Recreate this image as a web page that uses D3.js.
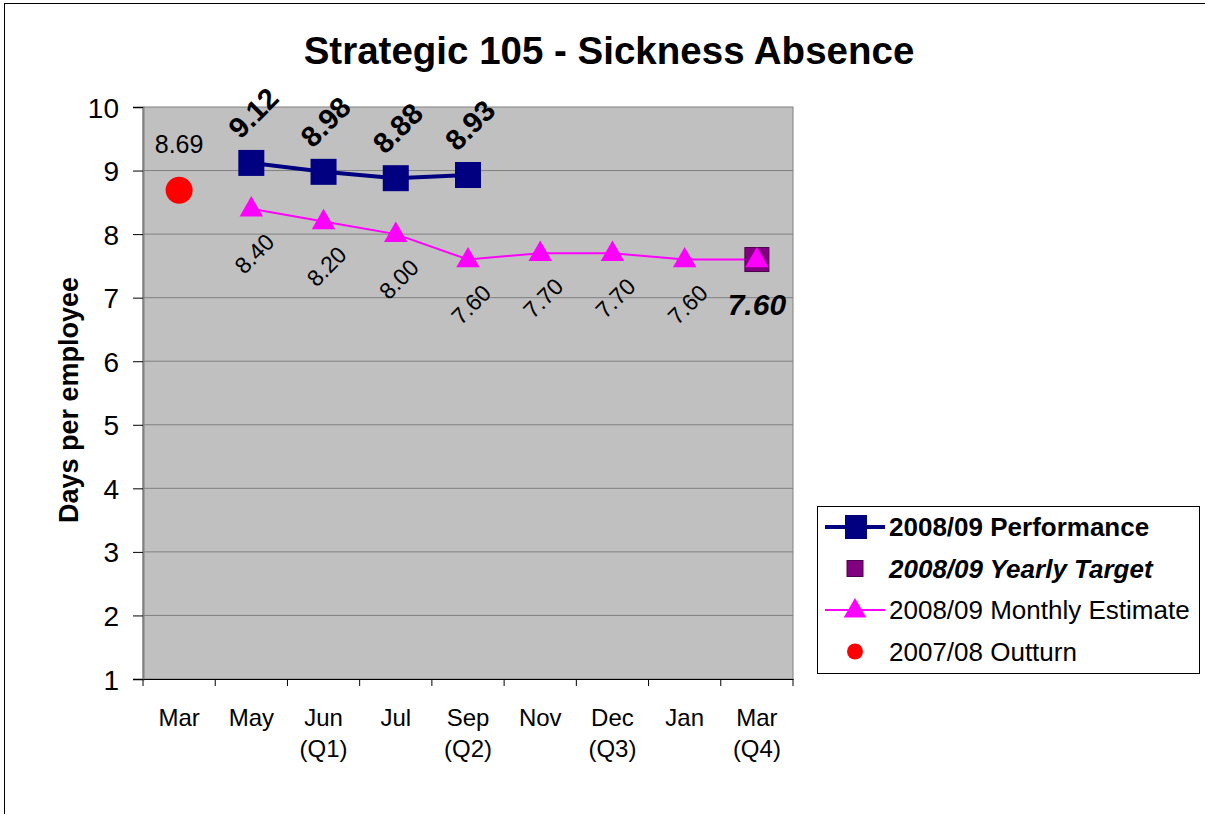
<!DOCTYPE html>
<html>
<head>
<meta charset="utf-8">
<script src="https://cdn.jsdelivr.net/npm/d3@7"></script>
<style>
  body { margin: 0; background: #ffffff; }
  text { font-family: Arial, "Liberation Sans", sans-serif; }
</style>
</head>
<body>
<div id="chart"></div>
<script>
// Chart data
const categories = ['Mar', 'May', 'Jun\n(Q1)', 'Jul', 'Sep\n(Q2)', 'Nov', 'Dec\n(Q3)', 'Jan', 'Mar\n(Q4)'];
const performance = [null, 9.12, 8.98, 8.88, 8.93, null, null, null, null];
const yearlyTarget = [null, null, null, null, null, null, null, null, 7.60];
const monthlyEstimate = [null, 8.40, 8.20, 8.00, 7.60, 7.70, 7.70, 7.60, 7.60];
const outturn = [8.69, null, null, null, null, null, null, null, null];
const yTicks = [1, 2, 3, 4, 5, 6, 7, 8, 9, 10];

const width = 1205;
const height = 814;
const plot = { left: 143, top: 107, right: 793, bottom: 679 };

const svg = d3.select('#chart')
  .append('svg')
  .attr('width', width)
  .attr('height', height);

// Outer frame
svg.append('rect')
  .attr('x', 4.5).attr('y', 3.5)
  .attr('width', width + 10).attr('height', height + 10)
  .attr('fill', '#ffffff')
  .attr('stroke', '#000000')
  .attr('stroke-width', 1);

// Scales
const x = d3.scaleBand()
  .domain(d3.range(categories.length))
  .range([plot.left, plot.right]);

const y = d3.scaleLinear()
  .domain([1, 10])
  .range([plot.bottom, plot.top]);

const cx = i => x(i) + x.bandwidth() / 2;

// Plot background
svg.append('rect')
  .attr('x', plot.left).attr('y', plot.top)
  .attr('width', plot.right - plot.left)
  .attr('height', plot.bottom - plot.top)
  .attr('fill', '#c0c0c0')
  .attr('stroke', '#808080')
  .attr('stroke-width', 1);

// Gridlines
svg.append('g')
  .selectAll('line')
  .data(yTicks.filter(d => d > 1 && d < 10))
  .enter()
  .append('line')
  .attr('x1', plot.left).attr('x2', plot.right)
  .attr('y1', d => y(d)).attr('y2', d => y(d))
  .attr('stroke', '#808080')
  .attr('stroke-width', 1);

// Y axis
const yAxis = svg.append('g')
  .attr('transform', `translate(${plot.left},0)`)
  .call(d3.axisLeft(y).tickValues(yTicks).tickSize(10).tickPadding(14).tickFormat(d3.format('d')));
yAxis.select('.domain').attr('stroke', '#808080').attr('stroke-width', 2);
yAxis.selectAll('.tick line').attr('stroke', '#000000');
yAxis.selectAll('.tick text')
  .style('font-size', '28px')
  .attr('fill', '#000000')
  .attr('dy', '0.36em');

// X axis
const xAxis = svg.append('g')
  .attr('transform', `translate(0,${plot.bottom})`)
  .call(d3.axisBottom(x).tickSize(0).tickFormat(''));
xAxis.select('.domain').attr('stroke', '#000000').attr('stroke-width', 1);

// X ticks at band edges
svg.append('g')
  .selectAll('line')
  .data(d3.range(categories.length + 1))
  .enter()
  .append('line')
  .attr('x1', i => i < categories.length ? x(i) : plot.right)
  .attr('x2', i => i < categories.length ? x(i) : plot.right)
  .attr('y1', plot.bottom).attr('y2', plot.bottom + 7)
  .attr('stroke', '#000000');

// X labels (two lines)
const xLabels = svg.append('g')
  .selectAll('text')
  .data(categories)
  .enter()
  .append('text')
  .attr('x', (d, i) => cx(i))
  .attr('y', plot.bottom + 47)
  .attr('text-anchor', 'middle')
  .style('font-size', '24px')
  .attr('fill', '#000000');
xLabels.each(function(d) {
  const parts = d.split('\n');
  const t = d3.select(this);
  parts.forEach((p, k) => {
    t.append('tspan')
      .attr('x', t.attr('x'))
      .attr('dy', k === 0 ? 0 : 31)
      .text(p);
  });
});

// Title
svg.append('text')
  .attr('x', 609).attr('y', 64)
  .attr('text-anchor', 'middle')
  .style('font-size', '38.5px')
  .style('font-weight', 700)
  .text('Strategic 105 - Sickness Absence');

// Y axis title
svg.append('text')
  .attr('transform', `translate(78,400) rotate(-90)`)
  .attr('text-anchor', 'middle')
  .style('font-size', '27px')
  .style('font-weight', 700)
  .text('Days per employee');

// Lines
const lineGen = d3.line()
  .defined(d => d.v !== null)
  .x(d => cx(d.i))
  .y(d => y(d.v));

const toPts = arr => arr.map((v, i) => ({ v, i }));

svg.append('path')
  .datum(toPts(monthlyEstimate))
  .attr('d', lineGen)
  .attr('fill', 'none')
  .attr('stroke', '#ff00ff')
  .attr('stroke-width', 2);

svg.append('path')
  .datum(toPts(performance))
  .attr('d', lineGen)
  .attr('fill', 'none')
  .attr('stroke', '#000080')
  .attr('stroke-width', 4);

// Target marker
const targetPts = toPts(yearlyTarget).filter(d => d.v !== null);
svg.append('g').selectAll('rect')
  .data(targetPts)
  .enter()
  .append('rect')
  .attr('x', d => cx(d.i) - 12).attr('y', d => y(d.v) - 12)
  .attr('width', 24).attr('height', 24)
  .attr('fill', '#800080')
  .attr('stroke', '#4d004d')
  .attr('stroke-width', 1);

// Performance markers
const perfPts = toPts(performance).filter(d => d.v !== null);
svg.append('g').selectAll('rect')
  .data(perfPts)
  .enter()
  .append('rect')
  .attr('x', d => cx(d.i) - 13).attr('y', d => y(d.v) - 13)
  .attr('width', 26).attr('height', 26)
  .attr('fill', '#000080');

// Estimate markers
const estPts = toPts(monthlyEstimate).filter(d => d.v !== null);
const tri = d3.symbol().type(d3.symbolTriangle).size(240);
svg.append('g').selectAll('path')
  .data(estPts)
  .enter()
  .append('path')
  .attr('d', tri)
  .attr('transform', d => `translate(${cx(d.i)},${y(d.v) + 1})`)
  .attr('fill', '#ff00ff');

// Outturn marker
const outPts = toPts(outturn).filter(d => d.v !== null);
svg.append('g').selectAll('circle')
  .data(outPts)
  .enter()
  .append('circle')
  .attr('cx', d => cx(d.i)).attr('cy', d => y(d.v))
  .attr('r', 13.5)
  .attr('fill', '#ff0000');

// Data labels
svg.append('g').selectAll('text')
  .data(perfPts)
  .enter()
  .append('text')
  .attr('transform', d => `translate(${cx(d.i) + 2},${y(d.v) - 50}) rotate(-45)`)
  .attr('text-anchor', 'middle')
  .attr('dy', '0.35em')
  .style('font-size', '29px')
  .style('font-weight', 700)
  .text(d => d.v.toFixed(2));

svg.append('g').selectAll('text')
  .data(estPts.filter(d => d.i < categories.length - 1))
  .enter()
  .append('text')
  .attr('transform', d => `translate(${cx(d.i) + 3},${y(d.v) + 45}) rotate(-45)`)
  .attr('text-anchor', 'middle')
  .attr('dy', '0.35em')
  .style('font-size', '23px')
  .text(d => d.v.toFixed(2));

svg.append('g').selectAll('text')
  .data(outPts)
  .enter()
  .append('text')
  .attr('x', d => cx(d.i)).attr('y', d => y(d.v) - 37)
  .attr('text-anchor', 'middle')
  .style('font-size', '25px')
  .text(d => d.v.toFixed(2));

svg.append('g').selectAll('text')
  .data(targetPts)
  .enter()
  .append('text')
  .attr('x', d => cx(d.i)).attr('y', d => y(d.v) + 55)
  .attr('text-anchor', 'middle')
  .style('font-size', '30px')
  .style('font-weight', 700)
  .style('font-style', 'italic')
  .text(d => d.v.toFixed(2));

// Legend
const legend = svg.append('g').attr('transform', 'translate(817,506)');
legend.append('rect')
  .attr('x', 0.5).attr('y', 0.5)
  .attr('width', 382).attr('height', 167)
  .attr('fill', '#ffffff')
  .attr('stroke', '#000000');

const legendItems = [
  { label: '2008/09 Performance', weight: 700, style: 'normal' },
  { label: '2008/09 Yearly Target', weight: 700, style: 'italic' },
  { label: '2008/09 Monthly Estimate', weight: 400, style: 'normal' },
  { label: '2007/08 Outturn', weight: 400, style: 'normal' }
];
const ly = i => 21 + i * 41.5;

// Performance key
legend.append('line').attr('x1', 8).attr('x2', 68).attr('y1', ly(0)).attr('y2', ly(0))
  .attr('stroke', '#000080').attr('stroke-width', 4);
legend.append('rect').attr('x', 28).attr('y', ly(0) - 12).attr('width', 22).attr('height', 24)
  .attr('fill', '#000080');
// Target key
legend.append('rect').attr('x', 30).attr('y', ly(1) - 8).attr('width', 16).attr('height', 16)
  .attr('fill', '#800080').attr('stroke', '#4d004d');
// Estimate key
legend.append('line').attr('x1', 8).attr('x2', 68).attr('y1', ly(2)).attr('y2', ly(2))
  .attr('stroke', '#ff00ff').attr('stroke-width', 2);
legend.append('path').attr('d', d3.symbol().type(d3.symbolTriangle).size(220))
  .attr('transform', `translate(38,${ly(2) + 1})`).attr('fill', '#ff00ff');
// Outturn key
legend.append('circle').attr('cx', 38).attr('cy', ly(3)).attr('r', 8).attr('fill', '#ff0000');

legend.selectAll('.legend-label')
  .data(legendItems)
  .enter()
  .append('text')
  .attr('class', 'legend-label')
  .attr('x', 72)
  .attr('y', (d, i) => ly(i))
  .attr('dy', '0.36em')
  .style('font-size', '26px')
  .style('font-weight', d => d.weight)
  .style('font-style', d => d.style)
  .text(d => d.label);
</script>
</body>
</html>
